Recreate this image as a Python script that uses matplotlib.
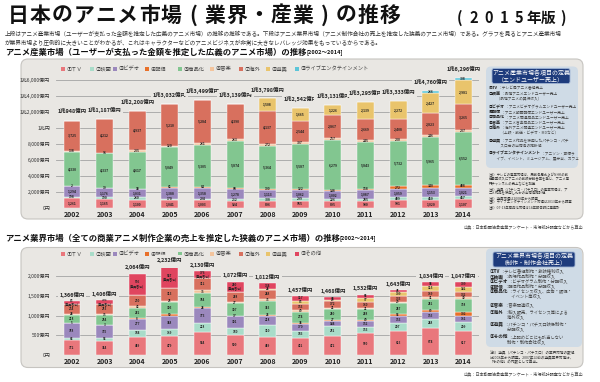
import numpy as np
import matplotlib
matplotlib.use('Agg')
import matplotlib.pyplot as plt
from matplotlib.patches import FancyBboxPatch, Rectangle

plt.rcParams['font.family'] = ['Noto Sans CJK JP', 'DejaVu Sans']

years = [str(y) for y in range(2002, 2015)]

# アニメ産業市場（億円）
tv      = [1261, 1165, 1100, 1041, 1003, 924, 896, 955, 895, 900, 991, 1020, 1107]
eiga    = [198, 190, 260, 170, 204, 212, 338, 299, 226, 285, 409, 410, 417]
video   = [1294, 1176, 1031, 1388, 1358, 1278, 1113, 1062, 1002, 1087, 1059, 1153, 1021]
haishin = [2, 10, 18, 61, 84, 88, 100, 122, 148, 158, 272, 340, 408]
shohin  = [4330, 4337, 4617, 5049, 5305, 5874, 5364, 5587, 6279, 5843, 5732, 5965, 6552]
ongaku  = [138, 91, 235, 120, 261, 263, 272, 307, 257, 245, 230, 246, 237]
kaigai  = [3725, 4212, 4937, 5210, 5284, 4390, 4137, 2544, 2867, 2669, 2408, 2823, 3265]
yukyo   = [0, 0, 0, 0, 0, 0, 1508, 1665, 1226, 2139, 2272, 2427, 2981]
live    = [0, 0, 0, 0, 0, 0, 0, 0, 0, 0, 0, 266, 308]
sangyo_total = ['1兆948億円', '1兆1,187億円', '1兆2,208億円', '1兆3,032億円', '1兆3,499億円',
                '1兆3,139億円', '1兆3,798億円', '1兆2,542億円', '1兆3,131億円', '1兆3,295億円',
                '1兆3,333億円', '1兆4,760億円', '1兆6,296億円']

# アニメ業界市場（億円）
g_tv      = [372, 364, 459, 479, 584, 500, 459, 432, 472, 550, 615, 674, 617]
g_eiga    = [68, 58, 184, 169, 228, 180, 310, 186, 252, 153, 207, 248, 209]
g_video   = [358, 335, 277, 348, 373, 301, 218, 170, 144, 152, 153, 155, 161]
g_haishin = [5, 3, 8, 50, 24, 17, 26, 34, 27, 40, 58, 69, 102]
g_shohin  = [218, 254, 262, 305, 354, 307, 363, 274, 280, 268, 287, 282, 338]
g_ongaku  = [24, 15, 43, 25, 75, 27, 33, 40, 21, 21, 29, 31, 30]
g_kaigai  = [234, 253, 290, 313, 312, 268, 248, 153, 172, 160, 133, 169, 132]
g_yukyo   = [0, 0, 0, 0, 0, 0, 24, 83, 25, 97, 109, 115, 142]
g_other   = [83, 103, 536, 547, 176, 260, 134, 117, 73, 86, 48, 94, 109]
gyokai_total = ['1,366億円', '1,406億円', '2,064億円', '2,232億円', '2,130億円', '1,872億円',
                '1,812億円', '1,457億円', '1,468億円', '1,532億円', '1,643億円', '1,834億円', '1,847億円']

sangyo_names = ['①ＴＶ', '②映画', '③ビデオ', '④配信', '⑤商品化', '⑥音楽', '⑦海外', '⑧遊興',
                '⑨ライブエンタテインメント']
gyokai_names = sangyo_names[:8] + ['⑨その他']
colors = ['#e9777c', '#a9dcc9', '#9b88bd', '#e8702a', '#82c690', '#f3c49c', '#d8705e', '#e9c46c', '#5cc5d8']
g_colors = colors[:8] + ['#e0455f']
legend_x = [63, 92, 115, 147, 180, 212, 241, 268, 297]

W, H = 600, 382
fig = plt.figure(figsize=(6, 3.82), dpi=100)
bg = fig.add_axes([0, 0, 1, 1])
bg.set_xlim(0, W)
bg.set_ylim(H, 0)
bg.axis('off')
renderer = fig.canvas.get_renderer()


def px_axes(x0, x1, ytop, ybot):
    ax = fig.add_axes([x0 / W, 1 - ybot / H, (x1 - x0) / W, (ybot - ytop) / H])
    ax.patch.set_visible(False)
    for s in ax.spines.values():
        s.set_visible(False)
    return ax


def stacked(ax, series, cols, fs, extra=None):
    x = np.arange(len(years))
    bottom = np.zeros(len(years))
    for k, (vals, c) in enumerate(zip(series, cols)):
        vals = np.array(vals, float)
        ax.bar(x, vals, 0.52, bottom=bottom, color=c, edgecolor='white', linewidth=0.3, zorder=2)
        for i, v in enumerate(vals):
            if v > 0:
                s = f'{int(v):,}'
                if extra is not None and k == len(series) - 1 and extra[i]:
                    s += '\n' + extra[i]
                ax.text(i, bottom[i] + v / 2, s, ha='center', va='center', fontsize=fs,
                        fontweight='bold', color='#222', zorder=3, linespacing=0.9)
        bottom += vals
    return bottom


def legend_row(y, names, cols):
    for xx, n, c in zip(legend_x, names, cols):
        bg.add_patch(Rectangle((xx - 2, y - 2), 4, 4, fc=c, ec='none'))
        bg.text(xx + 4, y, n, fontsize=3.8, va='center', ha='left', color='#444')


def def_line(x, y, head, rest, fs):
    t = bg.text(x, y, head, fontsize=fs + 0.2, fontweight='bold', va='center', ha='left', color='#222')
    if rest:
        bb = t.get_window_extent(renderer)
        bg.text(x + bb.width, y, rest, fontsize=fs, va='center', ha='left', color='#444')


# タイトル
main = '日本のアニメ市場(業界・産業)の推移'
for i, ch in enumerate(main):
    bg.text(7 + 21.9 * (i + 0.5), 15, ch, fontsize=15, fontweight='bold', ha='center', va='center',
            color='#111')
sub = '(2015年版)'
for i, ch in enumerate(sub):
    bg.text(452 + 14.8 * (i + 0.5), 18, ch, fontsize=10.5, fontweight='bold', ha='center', va='center',
            color='#111')

bg.text(5, 34, '上段はアニメ産業市場（ユーザーが支払った金額を推定した広義のアニメ市場）の推移の推移である。'
        '下段はアニメ業界市場（アニメ制作会社の売上を推定した狭義のアニメ市場）である。グラフを見るとアニメ産業市場',
        fontsize=4.1, va='center', ha='left', color='#333')
bg.text(5, 43, 'が業界市場より圧倒的に大きいことがわかるが、これはキャラクターなどのアニメビジネスが非常に大きな'
        'レバレッジ効果をもっているからである。', fontsize=4.1, va='center', ha='left', color='#333')

t = bg.text(5, 52, 'アニメ産業市場（ユーザーが支払った金額を推定した広義のアニメ市場）の推移', fontsize=6,
            fontweight='bold', va='center', ha='left', color='#111')
bb = t.get_window_extent(renderer)
bg.text(5 + bb.width, 52.5, '[2002～2014]', fontsize=4, fontweight='bold', va='center', ha='left', color='#111')

t = bg.text(5, 238, 'アニメ業界市場（全ての商業アニメ制作企業の売上を推定した狭義のアニメ市場）の推移', fontsize=6,
            fontweight='bold', va='center', ha='left', color='#111')
bb = t.get_window_extent(renderer)
bg.text(5 + bb.width, 238.5, '[2002～2014]', fontsize=4, fontweight='bold', va='center', ha='left', color='#111')

# パネル
bg.add_patch(FancyBboxPatch((21, 59), 562, 160, boxstyle='round,pad=0,rounding_size=7',
                            fc='#e9e7e3', ec='#c6c4c0', lw=0.8))
bg.add_patch(FancyBboxPatch((21, 247.5), 562, 120, boxstyle='round,pad=0,rounding_size=7',
                            fc='#e9e7e3', ec='#c6c4c0', lw=0.8))
src = '出典：日本動画協会産業アンケート・市場統計調査などから算出'
bg.text(583, 226.5, src, fontsize=3, ha='right', va='center', color='#444')
bg.text(583, 374, src, fontsize=3, ha='right', va='center', color='#444')

legend_row(69, sangyo_names, colors)
legend_row(254, gyokai_names, g_colors)

# 上段：産業市場
ax1 = px_axes(56, 479, 208.3 - 16800 * 0.008, 208.3)
ax1.set_xlim(-0.491, 12.48)
ax1.set_ylim(0, 16800)
for v in range(0, 16001, 2000):
    ax1.axhline(v, color='#a3a3a3', lw=0.6, zorder=0)
ax1.set_yticks(range(0, 16001, 2000))
ax1.set_yticklabels(['0円', '2,000億円', '4,000億円', '6,000億円', '8,000億円', '1兆円',
                     '1兆2,000億円', '1兆4,000億円', '1兆6,000億円'])
ax1.set_xticks(range(len(years)))
ax1.set_xticklabels(years, fontweight='bold')
ax1.tick_params(axis='y', length=0, pad=4.3, labelsize=3.6, labelcolor='#333')
ax1.tick_params(axis='x', length=0, pad=1.8, labelsize=5, labelcolor='#222')
top1 = stacked(ax1, [tv, eiga, video, haishin, shohin, ongaku, kaigai, yukyo, live], colors, 2.4)
for i, lab in enumerate(sangyo_total):
    ax1.text(i, top1[i] + 1130, lab, ha='center', va='center', fontsize=3.9, fontweight='bold',
             color='#222', zorder=4, bbox=dict(fc='#e9e7e3', ec='none', pad=1.2))

# 下段：業界市場
ax2 = px_axes(56, 479, 355 - 2200 * 0.0395, 355)
ax2.set_xlim(-0.491, 12.48)
ax2.set_ylim(0, 2200)
for v in range(0, 2001, 500):
    ax2.axhline(v, color='#a3a3a3', lw=0.6, zorder=0)
ax2.set_yticks(range(0, 2001, 500))
ax2.set_yticklabels(['0円', '500億円', '1,000億円', '1,500億円', '2,000億円'])
ax2.set_xticks(range(len(years)))
ax2.set_xticklabels(years, fontweight='bold')
ax2.tick_params(axis='y', length=0, pad=4.3, labelsize=3.6, labelcolor='#333')
ax2.tick_params(axis='x', length=0, pad=2.5, labelsize=5, labelcolor='#222')
other_note = ['(遊興含む)'] * 6 + [''] * 7
top2 = stacked(ax2, [g_tv, g_eiga, g_video, g_haishin, g_shohin, g_ongaku, g_kaigai, g_yukyo, g_other],
               g_colors, 2.2, extra=other_note)
for i, lab in enumerate(gyokai_total):
    ax2.text(i, top2[i] + 165, lab, ha='center', va='center', fontsize=3.9, fontweight='bold',
             color='#222', zorder=4, bbox=dict(fc='#e9e7e3', ec='none', pad=1.2))

# 上段の定義ボックス
bg.add_patch(FancyBboxPatch((486, 66.5), 92, 101.5, boxstyle='round,pad=0,rounding_size=5',
                            fc='#cfdbe6', ec='none'))
bg.add_patch(FancyBboxPatch((492, 68.5), 78, 15, boxstyle='round,pad=0,rounding_size=2',
                            fc='#1d3b7c', ec='#9fb3d3', lw=0.6))
bg.text(531, 76, 'アニメ産業市場各項目の定義\n（エンドユーザー売上）', fontsize=4.3, color='white',
        ha='center', va='center', linespacing=1.1)
defs1 = [
    (88.3, '①TV', '：テレビ局アニメ番組売上'),
    (93.7, '②映画', '：劇場アニメエンドユーザー売上'),
    (98.7, '', '　　（劇場アニメの興行収入）'),
    (107.3, '③ビデオ', '：アニメビデオグラムエンドユーザー売上'),
    (112.3, '④配信', '：アニメ動画配信エンドユーザー売上'),
    (117.3, '⑤商品化', '：アニメ関連商品エンドユーザー売上'),
    (122.7, '⑥音楽', '：アニメ音楽商品エンドユーザー売上'),
    (127.7, '⑦海外', '：海外アニメ関連エンドユーザー売上'),
    (133, '', '　　　（上映・放送・ビデオ・MDなど）'),
    (140.7, '⑧遊興', '：アニメ作品を使用したパチンコ・パチ'),
    (146, '', '　　　スロ台の出荷高の推計値'),
    (153.7, '⑨ライブエンタテインメント', '：アニソン・声優ラ'),
    (159, '', '　　イブ、イベント、ミュージアム、展示会、カフェ'),
]
for y, h, r in defs1:
    if h:
        def_line(489, y, h, r, 2.7)
    else:
        bg.text(489, y, r, fontsize=2.7, va='center', ha='left', color='#444')

notes1 = [
    '注1）テレビの産業市場は、民放各局およびNHKの放',
    '送事業収入にアニメの放映分割合率を乗じ、アニメ専',
    '門チャンネルの売上などを加算',
    '注2）遊興（パチンコ・パチスロ）の産業市場は、ア',
    'ニメ作品を使用したかの出荷高推計値',
    '注3）遊興市場は2008年から調査',
    '注4）ライブエンタテインメント市場は2013年から調査',
    '注5）07-13年商品化市場は14年報告時に再集計',
]
for k, s in enumerate(notes1):
    bg.text(489, 175 + k * 4.6, s, fontsize=2.45, va='center', ha='left', color='#333')

# 下段の定義ボックス
bg.add_patch(FancyBboxPatch((486, 248.5), 96, 98.5, boxstyle='round,pad=0,rounding_size=5',
                            fc='#cfdbe6', ec='none'))
bg.add_patch(FancyBboxPatch((493, 252), 82, 15, boxstyle='round,pad=0,rounding_size=2',
                            fc='#1d3b7c', ec='#9fb3d3', lw=0.6))
bg.text(534, 259.5, 'アニメ業界市場各項目の定義\n（制作・制作会社売上）', fontsize=4.3, color='white',
        ha='center', va='center', linespacing=1.1)
defs2 = [
    (271.7, '①TV', '：テレビ番組制作・放映権利収入'),
    (276.7, '②映画', '：劇場作品制作・分配収入'),
    (281.7, '③ビデオ', '：ビデオグラム制作・分配収入'),
    (286.7, '④配信', '：配信作品制作・分配収入'),
    (291.7, '⑤商品化', '：ライセンス収入、広告・販促・'),
    (296.7, '', '　　　　　イベント等収入'),
    (305, '⑥音楽', '：音楽関連収入'),
    (312.3, '⑦海外', '：輸入販売、ライセンス等による'),
    (317.3, '', '　　　　海外収入'),
    (324, '⑧遊興', '：パチンコ・パチスロ映像制作・'),
    (329.3, '', '　　　　分配収入'),
    (336.7, '⑨その他', '：上記のどこにも該当しない'),
    (342.3, '', '　　　　制作・制作会社収入'),
]
for y, h, r in defs2:
    if h:
        def_line(490, y, h, r, 3.1)
    else:
        bg.text(490, y, r, fontsize=3.1, va='center', ha='left', color='#444')

notes2 = [
    '注6）遊興（パチンコ・パチスロ）の業界市場の数値',
    'は2008年から調査。2007年以前の遊興業界市場は、',
    '「その他」の内数として算出。',
]
for k, s in enumerate(notes2):
    bg.text(490, 352.7 + k * 4.8, s, fontsize=2.6, va='center', ha='left', color='#333')

fig.savefig('out.png', dpi=100)
